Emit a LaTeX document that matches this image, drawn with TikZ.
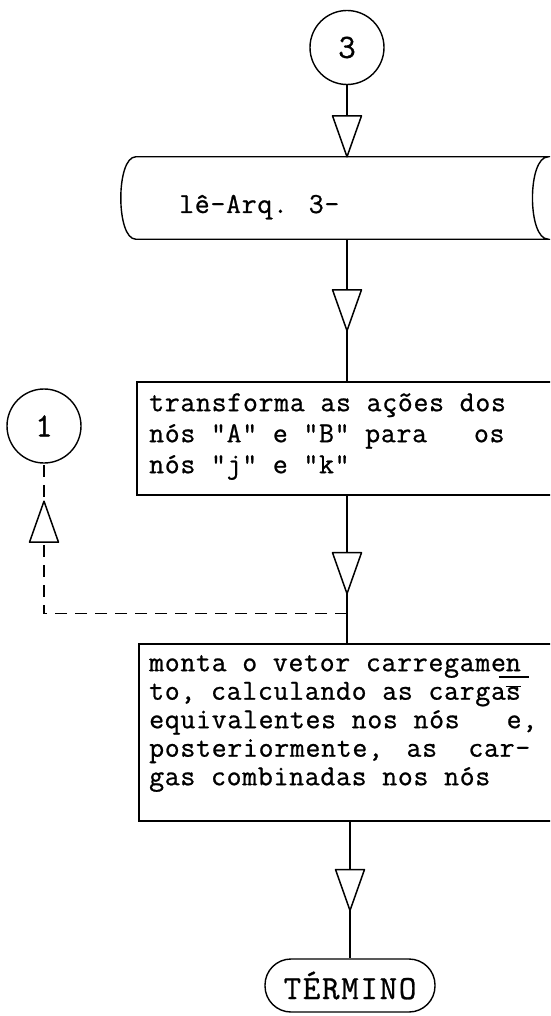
\documentclass[tikz,border=0pt]{standalone}
\usepackage{fontspec}
\newfontfamily\tw{Latin Modern Mono}[LetterSpace=2.4,FakeBold=0.8]
\newfontfamily\twb{Latin Modern Mono}[LetterSpace=5,FakeBold=0.8]
\usetikzlibrary{decorations.markings,calc}
\newcommand\myuln[1]{\rlap{\kern-7pt\rule[-6.5pt]{30pt}{1.3pt}}#1}
\newcommand\myobar[1]{\rlap{\rule[12.5pt]{15pt}{1.2pt}}#1}
\newcommand\mystrut{\rule{0pt}{24pt}}
\tikzset{
  outline/.style={draw, line width=1.4pt},
  conn/.style={line width=1.7pt},
  dconn/.style={line width=1.5pt, dash pattern=on 12pt off 8pt},
  tri at/.style={postaction={decorate,decoration={markings,mark=at position #1 with {\draw[solid,line width=1.5pt,fill=white,line join=round] (-20.5pt,-14.5pt) -- (-20.5pt,14.5pt) -- (20.5pt,0pt) -- cycle;}}}},
  conncircle/.style={outline, circle, minimum size=74pt, inner sep=0pt, font=\twb\fontsize{34}{38}\selectfont},
  boxtext/.style={anchor=north west, inner sep=0pt, align=left},
}
\begin{document}
\begin{tikzpicture}[x=1pt,y=-1pt]
\useasboundingbox (0,0) rectangle (550,1016);
\fill[white] (0,0) rectangle (550,1016);
\clip (0,0) rectangle (550,1016);
% connector circle 3
\node[conncircle] (c3) at (347,47.5) {3};
% stored data (tape)
\node[minimum width=412pt, minimum height=82pt, inner sep=0pt] (tape) at (342,198) {};
\draw[outline] (tape.north west) -- (tape.north east)
  .. controls ([xshift=-21pt]tape.north east) and ([xshift=-21pt]tape.south east) .. (tape.south east)
  -- (tape.south west)
  .. controls ([xshift=-20pt]tape.south west) and ([xshift=-20pt]tape.north west) .. cycle;
\node[anchor=base west, inner sep=0pt, font=\tw\fontsize{29}{31}\selectfont] (tapetext) at (179,213) {lê-Arq. 3-};
% box 1
\node[outline, minimum width=423pt, minimum height=113pt, inner sep=0pt] (b1) at (348.5,438.5) {};
\node[boxtext, font=\tw\fontsize{29}{31}\selectfont] (b1text) at (149,387)
  {\mystrut transforma as ações dos\\nós "A" e "B" para~~~os\\nós "j" e "k"};
% connector circle 1
\node[conncircle] (c1) at (44,426) {1};
% box 2
\node[outline, minimum width=421pt, minimum height=177pt, inner sep=0pt] (b2) at (349.5,732.5) {};
\node[boxtext, font=\tw\fontsize{29}{28.5}\selectfont] (b2text) at (149,647)
  {\mystrut monta o vetor carregame\myuln{n}\\to, calculando as carga\myobar{s}\\equivalentes nos nós~~~e,\\posteriormente, \kern8pt as~~car-\\gas combinadas nos nós};
% terminal
\node[outline, rounded corners=26pt, minimum width=170pt, minimum height=53pt, inner sep=0pt, font=\twb\fontsize{34}{38}\selectfont] (term) at (350,985.5) {TÉRMINO};
% connectors
\draw[conn, tri at=-20.5pt] (c3.south) -- (c3.south |- tape.north);
\draw[conn, tri at=0.5] (c3.south |- tape.south) -- (c3.south |- b1.north);
\draw[conn, tri at=77.5pt] (c3.south |- b1.south) -- (c3.south |- b2.north);
\coordinate (j) at ($(c3.south |- b1.south)+(0,118)$);
\draw[dconn, tri at=-58pt] (j) -| (c1.south);
\draw[conn, tri at=0.5] (term.north |- b2.south) -- (term.north);
\end{tikzpicture}
\end{document}
